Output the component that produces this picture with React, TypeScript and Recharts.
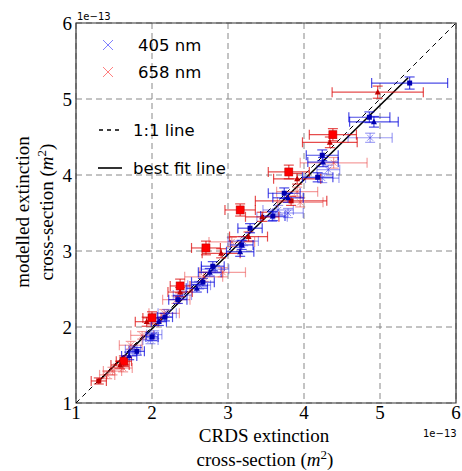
import React from "react";
import {
  ScatterChart,
  Scatter,
  XAxis,
  YAxis,
  CartesianGrid,
  ErrorBar,
  ReferenceLine,
  ReferenceArea,
} from "recharts";

// values in units of 1e-13 m^2 : [x, y, xerr, yerr, marker]
const red658Solid: [number, number, number, number, string][] = [
  [4.97, 5.09, 0.6, 0.08, "tri"],
  [4.38, 4.53, 0.31, 0.08, "big"],
  [4.34, 4.43, 0.36, 0.07, "tri"],
  [3.8, 4.04, 0.27, 0.09, "big"],
  [3.91, 3.95, 0.31, 0.07, "tri"],
  [3.83, 3.66, 0.47, 0.06, "sq"],
  [3.16, 3.54, 0.2, 0.08, "big"],
  [3.45, 3.45, 0.22, 0.06, "tri"],
  [3.27, 3.19, 0.25, 0.06, "tri"],
  [2.71, 3.04, 0.19, 0.09, "big"],
  [2.91, 2.97, 0.25, 0.06, "tri"],
  [2.37, 2.54, 0.13, 0.09, "big"],
  [2.37, 2.46, 0.16, 0.06, "tri"],
  [2.0, 2.12, 0.12, 0.08, "big"],
  [1.93, 2.07, 0.15, 0.06, "tri"],
  [1.63, 1.55, 0.1, 0.07, "big"],
  [1.58, 1.5, 0.12, 0.05, "tri"],
  [1.3, 1.29, 0.1, 0.04, "sq"],
];

const red658Cross: [number, number, number, number][] = [
  [4.39, 4.16, 0.44, 0.07],
  [3.91, 3.78, 0.27, 0.06],
  [3.95, 3.64, 0.3, 0.06],
  [3.05, 3.12, 0.3, 0.06],
  [2.93, 2.72, 0.3, 0.06],
  [2.68, 2.66, 0.25, 0.06],
  [2.32, 2.36, 0.18, 0.05],
  [2.16, 2.18, 0.2, 0.05],
  [1.87, 1.89, 0.15, 0.05],
  [1.72, 1.76, 0.15, 0.05],
  [1.62, 1.46, 0.12, 0.05],
  [1.48, 1.42, 0.12, 0.05],
  [1.41, 1.37, 0.1, 0.05],
];

const blue405Solid: [number, number, number, number, string][] = [
  [5.39, 5.21, 0.5, 0.08, "sq"],
  [4.86, 4.76, 0.27, 0.07, "sq"],
  [4.92, 4.7, 0.32, 0.07, "tri"],
  [4.24, 4.26, 0.21, 0.07, "sq"],
  [4.25, 4.17, 0.2, 0.06, "tri"],
  [4.18, 3.97, 0.2, 0.06, "sq"],
  [3.74, 3.76, 0.21, 0.07, "sq"],
  [3.79, 3.7, 0.2, 0.06, "tri"],
  [3.59, 3.46, 0.16, 0.06, "sq"],
  [3.29, 3.3, 0.16, 0.06, "sq"],
  [3.18, 3.08, 0.15, 0.06, "sq"],
  [3.16, 2.99, 0.18, 0.06, "tri"],
  [2.8, 2.8, 0.15, 0.06, "sq"],
  [2.76, 2.72, 0.15, 0.05, "tri"],
  [2.67, 2.59, 0.15, 0.05, "sq"],
  [2.59, 2.51, 0.14, 0.05, "tri"],
  [2.34, 2.36, 0.12, 0.05, "sq"],
  [2.17, 2.13, 0.1, 0.05, "sq"],
  [2.09, 2.07, 0.1, 0.05, "tri"],
  [2.0, 1.87, 0.08, 0.05, "sq"],
  [1.8, 1.68, 0.1, 0.05, "sq"],
  [1.7, 1.62, 0.1, 0.05, "tri"],
];

const blue405Cross: [number, number, number, number][] = [
  [4.87, 4.49, 0.29, 0.06],
  [4.32, 4.07, 0.15, 0.06],
  [4.24, 3.96, 0.22, 0.06],
  [3.66, 3.54, 0.2, 0.06],
  [3.79, 3.5, 0.2, 0.06],
  [3.58, 3.45, 0.2, 0.06],
  [3.2, 3.13, 0.2, 0.06],
  [2.83, 2.76, 0.18, 0.05],
  [2.62, 2.55, 0.15, 0.05],
  [2.4, 2.42, 0.12, 0.05],
  [2.2, 2.18, 0.12, 0.05],
  [2.03, 1.9, 0.1, 0.05],
  [1.98, 1.83, 0.1, 0.05],
  [1.75, 1.7, 0.1, 0.05],
];

const oneToOne = [
  { x: 1, y: 1 },
  { x: 6, y: 6 },
];
const bestFit = [
  { x: 1.29, y: 1.28 },
  { x: 5.37, y: 5.28 },
];

const ticks = [1, 2, 3, 4, 5, 6];

const toObj = (r: any[]) => ({ x: r[0], y: r[1], ex: r[2], ey: r[3], kind: r[4] || "x" });

const W = 462;
const H = 471;

const makeShape = (color: string, dark: string) => (props: any) => {
  const { cx, cy, payload } = props;
  if (cx == null || cy == null) return <g />;
  const k = payload.kind;
  if (k === "big") {
    return <rect x={cx - 4} y={cy - 4} width={8} height={8} fill={color} stroke={dark} strokeWidth={0.6} />;
  }
  if (k === "sq") {
    return <rect x={cx - 2.5} y={cy - 2.5} width={5} height={5} fill={dark} />;
  }
  if (k === "tri") {
    return <path d={`M${cx},${cy - 3.2} L${cx + 3},${cy + 2.4} L${cx - 3},${cy + 2.4} Z`} fill={dark} />;
  }
  return (
    <g stroke={color} strokeWidth={1}>
      <line x1={cx - 3} y1={cy - 3} x2={cx + 3} y2={cy + 3} />
      <line x1={cx - 3} y1={cy + 3} x2={cx + 3} y2={cy - 3} />
    </g>
  );
};

const tickStyle = { fontFamily: "'Liberation Serif', serif", fontSize: 19, fill: "#000" };

export default function App() {
  const rs = red658Solid.map(toObj);
  const rx = red658Cross.map(toObj);
  const bs = blue405Solid.map(toObj);
  const bx = blue405Cross.map(toObj);
  const serif = "'Liberation Serif', serif";
  const sans = "'DejaVu Sans', sans-serif";
  return (
    <div style={{ position: "absolute", left: 0, top: 0, width: W, height: H, background: "#fff" }}>
      <ScatterChart width={W} height={H} margin={{ top: 23, right: 6, bottom: 38, left: 16 }}>
        <CartesianGrid stroke="#888" strokeDasharray="6 4" strokeWidth={1} />
        <XAxis
          type="number"
          dataKey="x"
          domain={[1, 6]}
          ticks={ticks}
          allowDataOverflow
          height={30}
          axisLine={false}
          tickLine={false}
          tickSize={3}
          tickMargin={0}
          tick={tickStyle}
        />
        <YAxis
          type="number"
          dataKey="y"
          domain={[1, 6]}
          ticks={ticks}
          allowDataOverflow
          width={60}
          axisLine={false}
          tickLine={false}
          tickSize={2}
          tickMargin={2}
          tick={tickStyle}
        />
        <ReferenceLine segment={oneToOne} stroke="#000" strokeDasharray="5 4" strokeWidth={1} />
        <ReferenceLine segment={bestFit} stroke="#000" strokeWidth={1.6} />
        <Scatter data={rx} isAnimationActive={false} shape={makeShape("rgba(230,60,60,0.55)", "#c00")}>
          <ErrorBar dataKey="ex" direction="x" width={5} stroke="rgba(230,40,40,0.45)" strokeWidth={1.2} />
          <ErrorBar dataKey="ey" direction="y" width={5} stroke="rgba(230,40,40,0.45)" strokeWidth={1.2} />
        </Scatter>
        <Scatter data={bx} isAnimationActive={false} shape={makeShape("rgba(60,60,230,0.55)", "#00c")}>
          <ErrorBar dataKey="ex" direction="x" width={5} stroke="rgba(40,40,230,0.45)" strokeWidth={1.2} />
          <ErrorBar dataKey="ey" direction="y" width={5} stroke="rgba(40,40,230,0.45)" strokeWidth={1.2} />
        </Scatter>
        <Scatter data={rs} isAnimationActive={false} shape={makeShape("#ff0000", "#c00000")}>
          <ErrorBar dataKey="ex" direction="x" width={5} stroke="rgba(220,0,0,0.7)" strokeWidth={1.2} />
          <ErrorBar dataKey="ey" direction="y" width={5} stroke="rgba(220,0,0,0.7)" strokeWidth={1.2} />
        </Scatter>
        <Scatter data={bs} isAnimationActive={false} shape={makeShape("#0000ff", "#0000b0")}>
          <ErrorBar dataKey="ex" direction="x" width={5} stroke="rgba(0,0,220,0.7)" strokeWidth={1.2} />
          <ErrorBar dataKey="ey" direction="y" width={5} stroke="rgba(0,0,220,0.7)" strokeWidth={1.2} />
        </Scatter>
        <ReferenceArea x1={1} x2={6} y1={1} y2={6} fill="none" stroke="#333" strokeWidth={1.2} ifOverflow="visible" />
      </ScatterChart>
      <svg width={W} height={H} style={{ position: "absolute", left: 0, top: 0, pointerEvents: "none" }}>
        {/* legend */}
        <g stroke="#8080ff" strokeWidth={1}>
          <line x1={103} y1={40} x2={113} y2={50} />
          <line x1={103} y1={50} x2={113} y2={40} />
        </g>
        <g stroke="#ff8080" strokeWidth={1}>
          <line x1={103} y1={67} x2={113} y2={77} />
          <line x1={103} y1={77} x2={113} y2={67} />
        </g>
        <text x={138} y={51} fontFamily={sans} fontSize={16.5} fill="#000">405 nm</text>
        <text x={138} y={78} fontFamily={sans} fontSize={16.5} fill="#000">658 nm</text>
        <line x1={99} y1={130} x2={122} y2={130} stroke="#000" strokeWidth={1.3} strokeDasharray="4 4" />
        <text x={133} y={136} fontFamily={sans} fontSize={16.5} fill="#000">1:1 line</text>
        <line x1={98} y1={168} x2={122} y2={168} stroke="#000" strokeWidth={1.6} />
        <text x={133} y={174} fontFamily={sans} fontSize={16.5} fill="#000">best fit line</text>
        {/* offsets */}
        <text x={77} y={20} fontFamily={sans} fontSize={10} fill="#000">1e−13</text>
        <text x={423} y={437} fontFamily={sans} fontSize={10} fill="#000">1e−13</text>
        {/* x label */}
        <text x={264} y={442} textAnchor="middle" fontFamily={serif} fontSize={19} fill="#000">CRDS extinction</text>
        <text x={265} y={466} textAnchor="middle" fontFamily={serif} fontSize={19} fill="#000">
          cross-section (<tspan fontStyle="italic">m</tspan>
          <tspan fontSize={13} dy={-7}>2</tspan>
          <tspan dy={7}>)</tspan>
        </text>
        {/* y label */}
        <g transform="translate(29,212) rotate(-90)">
          <text x={0} y={0} textAnchor="middle" fontFamily={serif} fontSize={19} fill="#000">modelled extinction</text>
          <text x={0} y={24} textAnchor="middle" fontFamily={serif} fontSize={19} fill="#000">
            cross-section (<tspan fontStyle="italic">m</tspan>
            <tspan fontSize={13} dy={-7}>2</tspan>
            <tspan dy={7}>)</tspan>
          </text>
        </g>
      </svg>
    </div>
  );
}
